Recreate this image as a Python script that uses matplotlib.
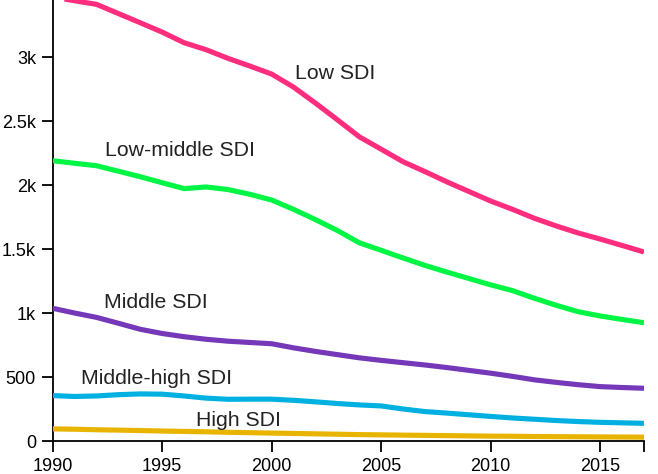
import matplotlib
matplotlib.use("Agg")
import matplotlib.pyplot as plt
from matplotlib.ticker import FuncFormatter, FixedLocator

plt.rcParams['font.family'] = ['Liberation Sans', 'DejaVu Sans']

years = list(range(1990, 2018))

low_sdi = [3470, 3440, 3412, 3340, 3268, 3195, 3112, 3058, 2990, 2930, 2867, 2765, 2640, 2510,
           2377, 2280, 2182, 2105, 2025, 1950, 1875, 1810, 1740, 1680, 1625, 1578, 1528, 1477]
low_middle_sdi = [2190, 2170, 2151, 2108, 2065, 2018, 1972, 1985, 1965, 1928, 1883, 1810, 1730, 1645,
                  1549, 1490, 1430, 1372, 1320, 1270, 1220, 1175, 1115, 1060, 1010, 977, 950, 924]
middle_sdi = [1037, 1000, 966, 920, 873, 840, 815, 795, 780, 770, 760, 728, 700, 675,
              650, 630, 612, 594, 574, 552, 530, 505, 478, 458, 440, 425, 418, 412]
middle_high_sdi = [355, 348, 352, 362, 368, 366, 352, 335, 326, 327, 327, 318, 306, 293,
                   282, 274, 250, 230, 218, 205, 192, 180, 170, 160, 152, 146, 142, 138]
high_sdi = [95, 92, 88, 85, 82, 78, 75, 72, 68, 65, 62, 59, 56, 53,
            50, 48, 46, 44, 42, 40, 38, 37, 35, 34, 33, 32, 31, 30]

series_names = ["Low SDI", "Low-middle SDI", "Middle SDI", "Middle-high SDI", "High SDI"]
series_values = [low_sdi, low_middle_sdi, middle_sdi, middle_high_sdi, high_sdi]
colors = ["#FF2D7E", "#00F545", "#7438B8", "#00B0E0", "#E8B400"]
label_pos = [(2002.9, 2875), (1995.8, 2273), (1994.7, 1086), (1994.75, 492), (1998.5, 164)]

y_ticks = [0, 500, 1000, 1500, 2000, 2500, 3000, 3500]
x_ticks = [1990, 1995, 2000, 2005, 2010, 2015]

fig = plt.figure(figsize=(6.58, 4.74), dpi=100)
ax = fig.add_axes([0.0801, 0.0696, 0.8986, 0.972])

for name, vals, c, pos in zip(series_names, series_values, colors, label_pos):
    ax.plot(years, vals, color=c, lw=3.7, solid_capstyle='butt', solid_joinstyle='round', zorder=3)
    ax.text(pos[0], pos[1], name, fontsize=15.3, color='#222222', ha='center', va='center')

ax.set_xlim(1990, 2017)
ax.set_ylim(0, 3600)

ax.xaxis.set_major_locator(FixedLocator(x_ticks))
ax.xaxis.set_minor_locator(FixedLocator([2017]))
ax.yaxis.set_major_locator(FixedLocator(y_ticks))

def kfmt(v, p):
    if v == 0:
        return "0"
    if v < 1000:
        return f"{int(v)}"
    s = f"{v/1000:g}"
    return s + "k"

ax.yaxis.set_major_formatter(FuncFormatter(kfmt))

for s in ['top', 'right']:
    ax.spines[s].set_visible(False)
for s in ['left', 'bottom']:
    ax.spines[s].set_linewidth(1.3)
    ax.spines[s].set_color('black')

ax.tick_params(axis='both', which='both', direction='out', length=8, width=1.3, colors='black',
               labelsize=13, pad=4)
ax.tick_params(axis='x', which='minor', length=8)

fig.savefig("out.png", dpi=100)
